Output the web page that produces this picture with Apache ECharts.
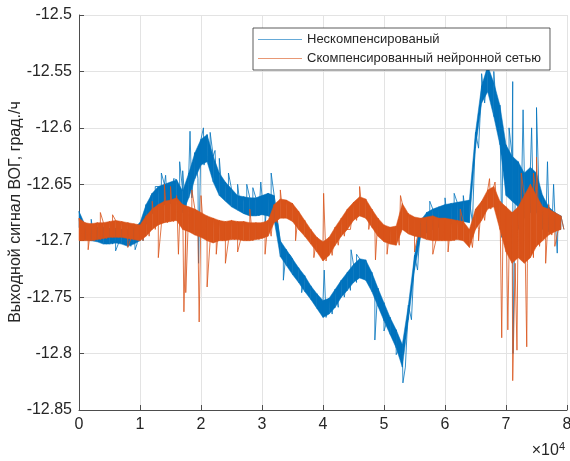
<!DOCTYPE html>
<html>
<head>
<meta charset="utf-8">
<script src="https://cdn.jsdelivr.net/npm/echarts@6/dist/echarts.min.js"></script>
<style>
  html, body { margin: 0; padding: 0; background: #fff; }
  #chart { width: 570px; height: 461px; }
</style>
</head>
<body>
<div id="chart"></div>
<script>
// Sample index of each window start (window = 1000 samples)
const windowStep = 1000;

// Uncompensated FOG output: upper / lower edge of the noise band per window
const rawUpper = [
  -12.674, -12.686, -12.687, -12.688, -12.688, -12.689, -12.689, -12.690, -12.690, -12.688,
  -12.684, -12.668, -12.658, -12.652, -12.650, -12.648, -12.646, -12.656, -12.640, -12.622,
  -12.610, -12.606, -12.625, -12.640, -12.648, -12.654, -12.660, -12.661, -12.662, -12.662,
  -12.660, -12.658, -12.660, -12.700, -12.708, -12.716, -12.724, -12.731, -12.740, -12.747,
  -12.753, -12.751, -12.743, -12.735, -12.728, -12.721, -12.716, -12.717, -12.728, -12.742,
  -12.755, -12.768, -12.779, -12.792, -12.757, -12.713, -12.682, -12.675, -12.672, -12.670,
  -12.668, -12.667, -12.666, -12.665, -12.664, -12.604, -12.563, -12.545, -12.560, -12.580,
  -12.615, -12.625, -12.630, -12.640, -12.635, -12.640, -12.660, -12.670, -12.675, -12.678
];
const rawLower = [
  -12.688, -12.699, -12.700, -12.701, -12.703, -12.703, -12.702, -12.703, -12.705, -12.703,
  -12.700, -12.685, -12.676, -12.670, -12.668, -12.667, -12.664, -12.675, -12.662, -12.645,
  -12.633, -12.630, -12.648, -12.660, -12.665, -12.670, -12.673, -12.676, -12.678, -12.678,
  -12.677, -12.678, -12.682, -12.714, -12.722, -12.730, -12.737, -12.745, -12.752, -12.760,
  -12.768, -12.765, -12.759, -12.750, -12.744, -12.737, -12.733, -12.735, -12.745, -12.758,
  -12.771, -12.783, -12.795, -12.812, -12.770, -12.726, -12.697, -12.693, -12.690, -12.688,
  -12.686, -12.685, -12.684, -12.683, -12.684, -12.618, -12.578, -12.568, -12.590, -12.615,
  -12.660, -12.665, -12.670, -12.680, -12.675, -12.675, -12.690, -12.692, -12.690, -12.690
];
// Isolated outliers of the uncompensated signal: [sample, value]
const rawSpikes = [
  [2000, -12.681], [6000, -12.709], [9200, -12.708], [11800, -12.660],
  [12500, -12.652], [13500, -12.640], [14200, -12.642], [15500, -12.645],
  [16500, -12.630], [17000, -12.638], [18200, -12.603], [19600, -12.720],
  [20400, -12.600], [21500, -12.604], [22300, -12.620], [23000, -12.627],
  [24500, -12.640], [26000, -12.650], [27500, -12.650], [28500, -12.653],
  [29800, -12.648], [30500, -12.686], [31500, -12.640], [33500, -12.735],
  [34500, -12.712], [36500, -12.746], [38000, -12.743], [40200, -12.726],
  [42500, -12.741], [44600, -12.708], [45500, -12.712], [46500, -12.722],
  [48500, -12.788], [50000, -12.780], [52000, -12.801], [53100, -12.826],
  [57500, -12.665], [60000, -12.662], [61500, -12.658], [63000, -12.660],
  [66000, -12.552], [68000, -12.550], [69300, -12.697], [70500, -12.600],
  [71100, -12.559], [71150, -12.800], [72000, -12.690], [72800, -12.584],
  [73800, -12.700], [74200, -12.600], [75000, -12.582], [76800, -12.630],
  [77800, -12.650], [78400, -12.711]
];

// Output compensated by the neural network
const compUpper = [
  -12.680, -12.684, -12.685, -12.684, -12.684, -12.683, -12.682, -12.683, -12.684, -12.685,
  -12.686, -12.678, -12.672, -12.668, -12.665, -12.664, -12.662, -12.668, -12.670, -12.672,
  -12.675, -12.678, -12.680, -12.682, -12.683, -12.682, -12.683, -12.683, -12.684, -12.684,
  -12.684, -12.682, -12.668, -12.663, -12.664, -12.667, -12.674, -12.682, -12.690, -12.697,
  -12.701, -12.697, -12.688, -12.680, -12.672, -12.666, -12.661, -12.663, -12.672, -12.680,
  -12.686, -12.688, -12.687, -12.667, -12.676, -12.679, -12.680, -12.679, -12.678, -12.680,
  -12.680, -12.681, -12.682, -12.683, -12.690, -12.672, -12.665, -12.655, -12.652, -12.665,
  -12.670, -12.675, -12.670, -12.660, -12.650, -12.660, -12.670, -12.672, -12.675, -12.678
];
const compLower = [
  -12.700, -12.700, -12.700, -12.699, -12.698, -12.697, -12.697, -12.697, -12.698, -12.699,
  -12.700, -12.696, -12.690, -12.686, -12.684, -12.683, -12.682, -12.690, -12.692, -12.695,
  -12.697, -12.700, -12.702, -12.700, -12.700, -12.699, -12.699, -12.700, -12.700, -12.699,
  -12.698, -12.696, -12.684, -12.680, -12.680, -12.683, -12.690, -12.696, -12.703, -12.710,
  -12.718, -12.713, -12.704, -12.696, -12.690, -12.682, -12.678, -12.680, -12.688, -12.696,
  -12.701, -12.703, -12.704, -12.690, -12.694, -12.696, -12.697, -12.699, -12.700, -12.700,
  -12.700, -12.700, -12.699, -12.700, -12.706, -12.690, -12.682, -12.672, -12.670, -12.690,
  -12.710, -12.720, -12.715, -12.720, -12.715, -12.705, -12.700, -12.695, -12.692, -12.690
];
const compSpikes = [
  [1500, -12.708], [3500, -12.675], [5500, -12.677], [8000, -12.706],
  [12000, -12.665], [13000, -12.715], [14000, -12.650], [15000, -12.652],
  [16000, -12.660], [16300, -12.712], [17200, -12.763], [17500, -12.746],
  [18500, -12.655], [19700, -12.772], [20000, -12.660], [21000, -12.741],
  [22500, -12.712], [24000, -12.720], [26000, -12.710], [28000, -12.672],
  [30500, -12.712], [33000, -12.655], [35500, -12.700], [38500, -12.715],
  [40100, -12.658], [42000, -12.690], [44000, -12.690], [46000, -12.652],
  [47500, -12.690], [48600, -12.717], [50500, -12.712], [52700, -12.660],
  [55000, -12.710], [58000, -12.712], [60500, -12.710], [62500, -12.672],
  [65500, -12.700], [67300, -12.645], [68200, -12.648], [69300, -12.786],
  [70300, -12.779], [71100, -12.824], [71800, -12.797], [72500, -12.640],
  [73400, -12.794], [74500, -12.640], [75000, -12.626], [76500, -12.720],
  [77000, -12.668], [78000, -12.705]
];

// Axis texts
const xTicks = ['0', '1', '2', '3', '4', '5', '6', '7', '8'];
const yTitle = 'Выходной сигнал ВОГ, град./ч';
const seriesNames = ['Нескомпенсированый', 'Скомпенсированный нейронной сетью'];
const seriesColors = ['#0072BD', '#D95319'];

// Trace alternating between the upper and lower readings of each window,
// with isolated outliers merged in at their sample positions.
function buildTrace(upper, lower, spikes) {
  const pts = [];
  for (let k = 0; k < upper.length; k++) {
    pts.push([k * windowStep, upper[k]]);
    pts.push([k * windowStep + windowStep / 2, lower[k]]);
  }
  spikes.forEach(s => pts.push([s[0], s[1]]));
  pts.sort((a, b) => a[0] - b[0]);
  return pts;
}

// One band segment per pair of neighbouring windows
function buildBand(upper, lower) {
  const items = [];
  for (let k = 0; k < upper.length - 1; k++) {
    items.push([k * windowStep, upper[k], lower[k],
                (k + 1) * windowStep, upper[k + 1], lower[k + 1]]);
  }
  return items;
}

function bandSeries(upper, lower, color, z) {
  return {
    type: 'custom',
    name: 'band',
    data: buildBand(upper, lower),
    encode: { x: [0, 3], y: [1, 2, 4, 5] },
    silent: true,
    z: z,
    renderItem: (params, api) => {
      const a = api.coord([api.value(0), api.value(1)]);
      const b = api.coord([api.value(3), api.value(4)]);
      const c = api.coord([api.value(3), api.value(5)]);
      const d = api.coord([api.value(0), api.value(2)]);
      return {
        type: 'polygon',
        shape: { points: [a, b, c, d] },
        style: { fill: color, stroke: color, lineWidth: 0.5 }
      };
    }
  };
}

const chart = echarts.init(document.getElementById('chart'), null, { renderer: 'canvas' });
const axisColor = '#4d4d4d';
const textColor = '#262626';
const font = 'Liberation Sans, Arial, sans-serif';

chart.setOption({
  animation: false,
  backgroundColor: '#ffffff',
  grid: { left: 79, right: 3, top: 15, bottom: 51, containLabel: false, outerBoundsMode: 'none' },
  legend: {
    orient: 'vertical',
    left: 253,
    top: 28,
    backgroundColor: '#ffffff',
    borderColor: '#333333',
    borderWidth: 0.8,
    borderRadius: 0,
    padding: [5, 9, 5, 5],
    icon: 'rect',
    itemWidth: 44,
    itemHeight: 1.2,
    itemGap: 6,
    textStyle: { fontFamily: font, fontSize: 13, color: textColor },
    data: seriesNames.map((n, i) => ({ name: n, itemStyle: { color: seriesColors[i], opacity: 0.6 } }))
  },
  xAxis: {
    type: 'value',
    min: 0,
    max: 80000,
    interval: 10000,
    axisLine: { show: true, lineStyle: { color: axisColor, width: 1 } },
    axisTick: { show: true, inside: true, length: 5, lineStyle: { color: axisColor } },
    axisLabel: {
      fontFamily: font, fontSize: 16, color: textColor, margin: 7,
      formatter: v => xTicks[Math.round(v / 10000)]
    },
    splitLine: { show: true, lineStyle: { color: '#e3e3e3', width: 1 } }
  },
  yAxis: {
    type: 'value',
    min: -12.85,
    max: -12.5,
    interval: 0.05,
    axisLine: { show: true, lineStyle: { color: axisColor, width: 1 } },
    axisTick: { show: true, inside: true, length: 5, lineStyle: { color: axisColor } },
    axisLabel: {
      fontFamily: font, fontSize: 16, color: textColor, margin: 7,
      formatter: v => String(parseFloat(v.toFixed(2)))
    },
    splitLine: { show: true, lineStyle: { color: '#e3e3e3', width: 1 } }
  },
  graphic: [
    {
      type: 'text',
      x: 16,
      y: 212,
      rotation: Math.PI / 2,
      style: {
        text: yTitle,
        fontFamily: font, fontSize: 16, fill: textColor,
        align: 'center', verticalAlign: 'middle'
      }
    },
    {
      type: 'text',
      right: 5,
      top: 441,
      style: {
        text: '{m|×10}{s|4}',
        rich: {
          m: { fontFamily: font, fontSize: 16, fill: textColor },
          s: { fontFamily: font, fontSize: 11, fill: textColor, verticalAlign: 'top', padding: [0, 0, 9, 0] }
        }
      }
    }
  ],
  series: [
    bandSeries(rawUpper, rawLower, seriesColors[0], 1),
    {
      name: seriesNames[0],
      type: 'line',
      data: buildTrace(rawUpper, rawLower, rawSpikes),
      showSymbol: false,
      symbol: 'none',
      color: seriesColors[0],
      lineStyle: { width: 0.8, color: seriesColors[0] },
      z: 2
    },
    bandSeries(compUpper, compLower, seriesColors[1], 3),
    {
      name: seriesNames[1],
      type: 'line',
      data: buildTrace(compUpper, compLower, compSpikes),
      showSymbol: false,
      symbol: 'none',
      color: seriesColors[1],
      lineStyle: { width: 0.8, color: seriesColors[1] },
      z: 4
    }
  ]
});
</script>
</body>
</html>
